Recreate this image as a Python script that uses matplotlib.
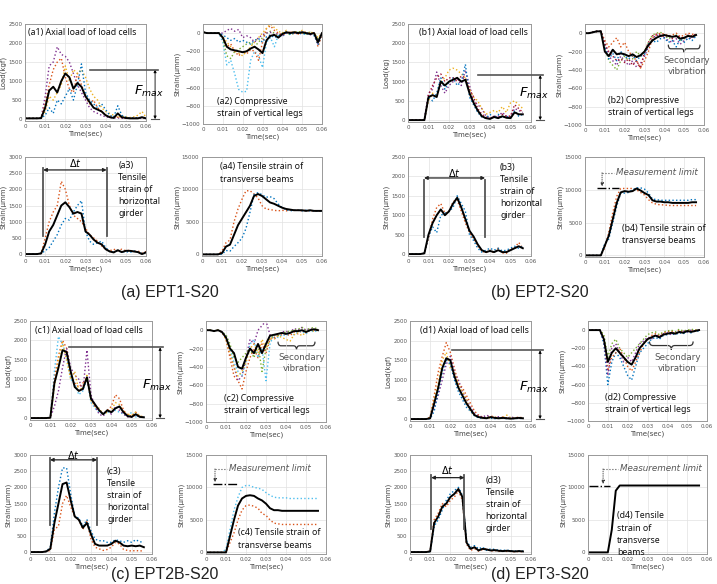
import numpy as np
import matplotlib
matplotlib.use('Agg')
import matplotlib.pyplot as plt
from matplotlib.path import Path
from matplotlib.patches import PathPatch

plt.rcParams['font.family'] = ['DejaVu Sans']

# time bases (sec)
t60 = np.round(np.arange(31) * 0.002, 3)
t56 = np.round(np.arange(29) * 0.002, 3)

# ---------------- (a) EPT1-S20 ----------------
a1_black = [20,20,20,20,25, 300,750,850,700,1000, 1200,1100,800,950,850, 600,450,300,250,200, 100,50,30,150,50, 30,20,20,20,50, 20]
a1_purple = [20,20,20,20,30, 600,1400,1500,1900,1700, 1650,1500,1200,900,700, 500,300,200,150,100, 60,40,30,30,20, 20,20,20,20,20, 20]
a1_orange = [20,20,20,20,30, 400,900,1300,1500,1600, 1100,800,700,1200,900, 600,400,500,300,200, 100,80,60,50,40, 30,30,30,30,30, 30]
a1_yellow = [20,20,20,20,30, 200,600,500,700,900, 1400,1000,1300,1200,1300, 1100,800,600,500,300, 200,150,100,50,80, 60,40,60,100,200, 50]
a1_blue = [20,20,20,20,30, 100,300,150,500,400, 600,800,500,900,1450, 700,500,400,300,400, 250,100,50,350,100, 50,30,30,30,30, 30]

a2_black = [10,0,0,0,0, -50,-150,-180,-190,-200, -210,-200,-170,-150,-180, -220,-80,-30,-20,-50, -10,10,0,10,0, 10,0,-10,0,-100, 0]
a2_cyan = [10,0,0,0,0, -100,-350,-300,-450,-620, -650,-640,-300,-200,-250, -380,-100,-50,-150,-20, -40,0,-10,0,10, 0,-20,0,-30,-80, -10]
a2_green = [10,0,0,0,0, -60,-250,-280,-200,-180, -150,-120,-100,-150,-100, -50,0,20,0,-30, 0,10,-20,0,20, 0,-10,10,0,-60, 0]
a2_purple = [10,0,0,0,0, 0,30,50,20,40, -50,-30,-50,-100,-50, -20,0,10,-20,0, -30,0,10,-10,0, 10,0,-20,0,-120, 0]
a2_orange = [10,0,0,0,0, -50,-150,-120,-200,-250, -200,-230,-180,-200,-300, -100,50,80,30,0, -20,0,10,0,-10, 0,10,0,0,-150, -20]
a2_yellow = [10,0,0,0,0, -40,-100,-150,-200,-220, -250,-200,-150,-100,-50, 0,50,100,60,20, 0,30,0,20,0, 30,0,10,0,-50, 0]
a2_blue = [10,0,0,0,0, -20,-50,-80,-60,-100, -80,-100,-120,-80,-60, -100,-40,-20,-50,-30, -10,0,-10,0,0, -10,0,0,-20,-130, 0]

a3_black = [0,0,0,0,20, 300,700,900,1200,1500, 1600,1450,1250,1300,1250, 700,600,450,350,300, 150,80,50,120,60, 100,100,80,60,0, 50]
a3_orange = [0,0,0,0,20, 500,1000,1300,1500,2250, 2000,1500,1200,1100,1000, 800,600,500,400,250, 150,100,150,100,150, 100,120,80,100,30, 80]
a3_blue = [0,0,0,0,20, 100,200,400,600,900, 1100,1050,1300,1500,1650, 700,400,300,350,400, 200,80,60,100,60, 80,50,100,60,20, 60]

a4_black = [0,0,0,0,0, 200,1200,1500,3000,4500, 5500,6500,7500,9000,9300, 9000,8500,8000,7800,7500, 7200,7000,6900,6800,6800, 6800,6700,6800,6700,6700, 6700]
a4_orange = [0,0,0,0,0, 500,1800,2200,5000,7000, 8500,9800,9800,9300,8700, 7500,7000,6900,6800,6700, 6800,6700,6800,6800,6800, 6700,6800,6700,6700,6700, 6700]
a4_blue = [0,0,0,0,0, 0,600,500,1200,1800, 2500,4000,6500,9200,9500, 9200,8800,8900,8600,7800, 7200,6900,6700,6800,6800, 6700,6800,6700,6700,6700, 6700]

# ---------------- (b) EPT2-S20 ----------------
b1_black = [0,0,0,0,0, 600,650,600,1000,900, 1000,1050,1100,1000,1050, 700,450,250,100,50, 30,80,50,100,60, 50,200,150,150]
b1_purple = [0,0,0,0,0, 700,800,1250,900,700, 900,1000,1100,900,1300, 900,500,400,300,100, 50,100,100,200,100, 100,300,250,200]
b1_yellow = [0,0,0,0,0, 500,700,600,1000,1100, 1300,1350,1300,1200,1100, 800,600,500,300,150, 200,250,200,350,200, 450,500,400,300]
b1_blue = [0,0,0,0,0, 600,500,700,1100,800, 1000,1100,900,1000,1450, 600,400,200,80,50, 150,50,150,50,100, 50,250,100,150]
b1_red = [0,0,0,0,0, 650,900,1100,1200,1000, 1100,1100,1000,1150,1100, 800,600,300,150,80, 50,100,50,150,100, 100,400,300,200]

b2_black = [0,0,10,20,20, -200,-250,-180,-230,-220, -230,-250,-230,-260,-240, -200,-130,-80,-50,-30, -20,-30,-40,-30,-60, -50,-30,-40,-20]
b2_purple = [0,0,10,20,20, -100,-250,-300,-350,-250, -300,-350,-300,-370,-330, -250,-150,-60,-20,-30, -50,-80,-100,-60,-120, -80,-60,-50,-30]
b2_green = [0,0,10,20,20, -150,-300,-350,-400,-300, -250,-300,-280,-200,-250, -200,-100,-20,0,10, -20,-60,-40,-20,-80, -60,-20,-40,-10]
b2_orange = [0,0,10,20,20, -80,-150,-100,-50,-150, -100,-200,-250,-300,-380, -300,-200,-50,-20,0, -10,-30,-20,0,-40, -20,0,-10,-20]
b2_blue = [0,0,10,20,20, -150,-280,-220,-300,-200, -250,-280,-240,-300,-250, -230,-120,-80,-100,-60, -50,-100,-80,-150,-60, -100,-50,-80,-30]
b2_red = [0,0,10,20,20, -120,-200,-250,-300,-280, -320,-280,-350,-300,-380, -200,-100,-30,-10,-20, -40,-20,-60,-30,-40, -60,-20,-30,-10]

b3_black = [0,0,0,0,20, 500,800,1000,1150,1000, 1100,1300,1450,1200,900, 600,450,250,100,50, 80,50,100,50,50, 100,150,200,150]
b3_orange = [0,0,0,0,20, 400,900,1200,1300,1050, 1100,1350,1400,1100,800, 550,400,200,80,30, 100,30,150,30,20, 150,150,300,150]
b3_blue = [0,0,0,0,20, 450,700,550,1000,1050, 1100,1200,1500,1300,1100, 500,350,150,50,100, 150,100,150,80,100, 150,200,150,200]

b4_black = [0,0,0,0,0, 1500,3000,5500,8000,9600, 9800,9700,9800,10200,9900, 9500,9200,8400,8200,8200, 8100,8100,8000,8000,8000, 8000,8000,8100,8100]
b4_orange = [0,0,0,0,0, 1200,3500,6500,9000,10200, 10200,10200,10200,10000,9600, 9200,8500,8000,7800,7700, 7700,7600,7600,7600,7600, 7600,7600,7600,7600]
b4_blue = [0,0,0,0,0, 1800,2500,5000,7500,9500, 9500,9600,10000,10300,10300, 10100,9500,8600,8500,8400, 8400,8400,8400,8400,8400, 8400,8400,8500,8500]

# ---------------- (c) EPT2B-S20 ----------------
c1_black = [0,0,0,0,0, 10,900,1300,1750,1700, 1200,800,700,750,1050, 500,350,200,100,200, 150,250,300,150,50, 30,100,30,20]
c1_cyan = [0,0,0,0,0, 10,1200,2100,1900,1600, 1000,900,600,700,1000, 400,250,150,100,150, 150,200,150,100,50, 150,30,50,20]
c1_orange = [0,0,0,0,0, 10,1000,1600,2000,1800, 1100,900,800,900,1000, 500,300,200,100,200, 300,600,500,200,80, 50,150,50,30]
c1_purple = [0,0,0,0,0, 10,300,700,1300,1800, 1300,1100,1000,700,1750, 600,300,100,50,200, 100,300,200,100,30, 20,80,20,20]
c1_yellow = [0,0,0,0,0, 10,800,1500,1950,1500, 1000,1200,700,800,1100, 450,300,250,100,150, 200,400,350,150,100, 80,150,50,30]

c2_black = [0,0,-10,0,-20, -80,-200,-250,-400,-420, -300,-200,-250,-150,-250, -150,-60,-50,-40,-30, -40,-30,-10,-10,0, -20,0,10,0]
c2_orange = [0,0,-10,0,-20, -100,-300,-500,-550,-640, -450,-300,-200,-300,-150, -250,-100,-80,-60,-50, -40,-60,-20,-40,0, -30,0,10,0]
c2_purple = [0,0,-10,0,-20, -80,-250,-400,-550,-500, -300,-100,-150,0,50, 100,-50,-100,-50,-20, -10,-30,20,0,30, 0,20,0,10]
c2_cyan = [0,0,-10,0,-20, -60,-200,-350,-450,-500, -350,-150,-100,-300,-200, -550,-150,-50,-80,-50, -60,-30,-50,-20,-10, -40,0,-20,0]
c2_green = [0,0,-10,0,-20, -50,-150,-300,-350,-300, -250,-200,-300,-150,-450, -200,-100,-50,-60,-30, -20,-10,0,10,30, 0,20,30,10]
c2_yellow = [0,0,-10,0,-20, -100,-250,-400,-500,-450, -350,-200,-150,-250,-100, -200,-80,-100,-60,-80, -100,-120,-50,-30,-60, -20,0,-10,0]

c3_black = [0,0,0,0,20, 100,900,1500,2100,2150, 1600,1100,1000,750,900, 550,250,200,200,200, 250,350,300,200,180, 200,180,200,150]
c3_blue = [0,0,0,0,20, 150,1200,2000,2600,2600, 1800,1100,1050,800,1000, 650,400,350,350,300, 300,380,350,300,350, 300,380,320,300]
c3_orange = [0,0,0,0,20, 50,700,800,1500,1750, 1400,1100,1000,700,950, 400,150,100,50,80, 150,300,250,80,50, 30,50,30,50]

c4_black = [0,0,0,0,0, 0,2500,5000,7200,8300, 8700,8800,8700,8300,8000, 7500,6800,6500,6500,6400, 6400,6400,6400,6400,6400, 6400,6400,6400,6400]
c4_cyan = [0,0,0,0,0, 500,3500,6500,8500,10000, 10300,10300,10000,9900,9700, 9200,8800,8500,8400,8400, 8400,8300,8300,8300,8300, 8300,8300,8300,8300]
c4_orange = [0,0,0,0,0, 0,1500,3000,5000,6500, 7200,7300,7100,6800,6000, 5700,5000,4500,4400,4300, 4300,4300,4300,4300,4300, 4300,4300,4300,4300]

# ---------------- (d) EPT3-S20 ----------------
d1_black = [0,0,0,0,0, 20,400,800,1300,1550, 1500,1100,800,600,400, 250,100,50,30,20, 50,30,20,30,20, 10,20,30,20]
d1_orange = [0,0,0,0,0, 50,600,1200,1600,1950, 1700,1300,900,800,600, 400,200,100,50,30, 80,50,30,50,30, 20,30,50,30]
d1_purple = [0,0,0,0,0, 20,300,600,1000,1400, 1600,1200,1000,700,500, 300,150,80,50,100, 50,30,60,30,20, 50,30,20,10]
d1_yellow = [0,0,0,0,0, 30,500,900,1500,1700, 1300,1200,900,700,500, 200,100,50,30,20, 30,50,20,30,100, 30,20,30,20]
d1_blue = [0,0,0,0,0, 10,200,700,1200,1500, 1400,1000,700,500,300, 200,80,30,20,50, 20,10,30,20,10, 20,10,20,10]

d2_black = [0,0,0,0,-100, -350,-250,-200,-250,-300, -350,-380,-300,-200,-150, -100,-80,-60,-80,-50, -40,-30,-40,-20,-30, -10,-20,-10,0]
d2_blue = [0,0,0,0,-150, -600,-350,-250,-300,-400, -500,-550,-400,-250,-200, -150,-100,-80,-100,-60, -50,-40,-50,-30,-40, -20,-30,-10,-10]
d2_orange = [0,0,0,0,-80, -450,-300,-250,-200,-300, -400,-450,-350,-250,-150, -100,-60,-40,-60,-30, -20,-10,-30,0,-20, 0,-10,0,0]
d2_green = [0,0,0,0,-50, -300,-150,-100,-200,-250, -300,-250,-200,-150,-100, -50,-30,-20,-50,-20, -10,0,-20,10,-10, 0,10,0,0]
d2_purple = [0,0,0,0,-120, -500,-200,-150,-250,-350, -300,-350,-250,-150,-120, -80,-100,-50,-70,-40, -30,-50,-20,-30,-10, -20,0,-10,0]

d3_black = [0,0,0,0,0, 20,900,1100,1400,1500, 1700,1800,1950,1700,300, 100,150,50,100,80, 50,60,40,30,40, 30,20,30,20]
d3_orange = [0,0,0,0,0, 30,1000,1200,1500,1400, 1600,1700,1900,1600,250, 50,100,30,80,100, 30,50,20,30,20, 20,10,20,10]
d3_blue = [0,0,0,0,0, 10,800,1000,1300,1600, 1800,1900,2000,1750,350, 150,200,100,150,50, 100,80,60,50,60, 40,30,40,30]

d4_black = [0,0,0,0,0, 0,3500,9500,10300,10300, 10300,10300,10300,10300,10300, 10300,10300,10300,10300,10300, 10300,10300,10300,10300,10300, 10300,10300,10300,10300]

# MATLAB-like colours
C = {'blue': '#0072BD', 'orange': '#D95319', 'yellow': '#EDB120', 'purple': '#7E2F8E',
     'green': '#77AC30', 'cyan': '#4DBEEE', 'red': '#A2142F'}

W, H = 717, 584
fig = plt.figure(figsize=(W / 100, H / 100), dpi=100)

TXT = dict(fontsize=6.3, fontweight='bold', family=['Noto Sans', 'DejaVu Sans'], color='#111')


def px_axes(l, t, r, b):
    return fig.add_axes([l / W, 1 - b / H, (r - l) / W, (b - t) / H])


def setup(ax, ylim, yticks, ylabel):
    ax.set_xlim(0, 0.06)
    ax.set_xticks([0, 0.01, 0.02, 0.03, 0.04, 0.05, 0.06])
    ax.set_xticklabels(['0', '0.01', '0.02', '0.03', '0.04', '0.05', '0.06'])
    ax.set_ylim(ylim)
    ax.set_yticks(yticks)
    ax.tick_params(labelsize=4, length=0, pad=2, colors='#555')
    ax.grid(True, color='#e2e2e2', lw=0.5)
    for s in ax.spines.values():
        s.set_color('#999')
        s.set_linewidth(0.7)
    ax.set_xlabel('Time(sec)', fontsize=5, labelpad=1, color='#444')
    ax.set_ylabel(ylabel, fontsize=5, labelpad=1, color='#444')


def curves(ax, t, colored, black):
    for name, y in colored:
        ax.plot(t, y, color=C[name], ls=':', lw=1.0)
    ax.plot(t, black, color='k', lw=1.4)


def fmax(ax, x0, x1, xa, y, tx, ty):
    ax.plot([x0, x1], [y, y], color='#555', lw=1.2, clip_on=False, zorder=5)
    ax.plot([xa - 0.002, xa + 0.002], [0, 0], color='#555', lw=0.8, clip_on=False, zorder=5)
    ax.annotate('', xy=(xa, y), xytext=(xa, 0), annotation_clip=False,
                arrowprops=dict(arrowstyle='<|-|>', color='k', lw=0.6, mutation_scale=4, shrinkA=0, shrinkB=0))
    ax.text(tx, ty, '$F_{max}$', fontsize=9.5, ha='center', va='center', clip_on=False, zorder=6)


def delta_t(ax, x0, x1, yb, yt, ya, ytext):
    for x in (x0, x1):
        ax.plot([x, x], [yb, yt], color='#555', lw=1.3)
    ax.annotate('', xy=(x1, ya), xytext=(x0, ya),
                arrowprops=dict(arrowstyle='<|-|>', color='#222', lw=0.9, mutation_scale=5, shrinkA=0, shrinkB=0))
    ax.text((x0 + x1) / 2, ytext, '$\\Delta t$', fontsize=7, ha='center', va='center')


def meas_limit(ax, x0, x1, y, xa, ylead, xtext):
    ax.plot([x0, x1], [y, y], color='k', ls='-.', lw=1)
    ax.plot([xa, xtext - 0.0008], [ylead, ylead], color='#555', ls=':', lw=0.8)
    ax.annotate('', xy=(xa, y + 250), xytext=(xa, ylead),
                arrowprops=dict(arrowstyle='-|>', color='#333', lw=0.6, ls=':', mutation_scale=5, shrinkA=0, shrinkB=0))
    ax.text(xtext, ylead, 'Measurement limit', fontsize=6.3, style='italic', color='#555', va='center')


def brace(ax, x0, x1, y, h, tx, ty):
    xm = (x0 + x1) / 2
    d = (x1 - x0) * 0.08
    verts = [(x0, y + h), (x0, y), (x0 + d, y), (xm - d, y), (xm, y), (xm, y - h),
             (xm, y), (xm + d, y), (x1 - d, y), (x1, y), (x1, y + h)]
    codes = [Path.MOVETO, Path.CURVE3, Path.CURVE3, Path.LINETO, Path.CURVE3, Path.CURVE3,
             Path.CURVE3, Path.CURVE3, Path.LINETO, Path.CURVE3, Path.CURVE3]
    ax.add_patch(PathPatch(Path(verts, codes), fill=False, lw=0.9, color='#333'))
    ax.text(tx, ty, 'Secondary\nvibration', fontsize=6.3, color='#555', ha='center', va='center', linespacing=1.3)


LOAD = ((-50, 2500), [0, 500, 1000, 1500, 2000, 2500])
COMP = ((-1000, 100), [-1000, -800, -600, -400, -200, 0])
GIRD = ((-60, 3000), [0, 500, 1000, 1500, 2000, 2500, 3000])
BEAM = ((-250, 15000), [0, 5000, 10000, 15000])
SU = 'Strain(μmm)'

# ---- (a) ----
ax = px_axes(25, 24, 146, 121)
setup(ax, *LOAD, 'Load(kgf)')
curves(ax, t60, [('purple', a1_purple), ('orange', a1_orange), ('yellow', a1_yellow), ('blue', a1_blue)], a1_black)
ax.text(0.0015, 2265, '(a1) Axial load of load cells', va='center', **TXT)
fmax(ax, 0.032, 0.066, 0.0645, 1300, 0.0615, 720)

ax = px_axes(203, 24, 322, 124)
setup(ax, *COMP, SU)
curves(ax, t60, [('cyan', a2_cyan), ('green', a2_green), ('purple', a2_purple), ('orange', a2_orange),
                 ('yellow', a2_yellow), ('blue', a2_blue)], a2_black)
ax.text(0.007, -823, '(a2) Compressive\nstrain of vertical legs', va='center', linespacing=1.45, **TXT)

ax = px_axes(25, 157, 146, 256)
setup(ax, *GIRD, SU)
curves(ax, t60, [('orange', a3_orange), ('blue', a3_blue)], a3_black)
delta_t(ax, 0.009, 0.0405, 560, 2650, 2600, 2800)
ax.text(0.0462, 1995, '(a3)\nTensile\nstrain of\nhorizontal\ngirder', va='center', linespacing=1.45, **TXT)

ax = px_axes(202, 157, 322, 256)
setup(ax, *BEAM, SU)
curves(ax, t60, [('orange', a4_orange), ('blue', a4_blue)], a4_black)
ax.text(0.009, 12525, '(a4) Tensile strain of\ntransverse beams', va='center', linespacing=1.45, **TXT)

# ---- (b) ----
ax = px_axes(408, 24, 531, 122)
setup(ax, *LOAD, 'Load(kg)')
curves(ax, t56, [('purple', b1_purple), ('yellow', b1_yellow), ('blue', b1_blue), ('red', b1_red)], b1_black)
ax.text(0.0054, 2270, '(b1) Axial load of load cells', va='center', **TXT)
fmax(ax, 0.034, 0.066, 0.0645, 1170, 0.0615, 700)

ax = px_axes(585, 24, 704, 125)
setup(ax, *COMP, SU)
curves(ax, t56, [('purple', b2_purple), ('green', b2_green), ('orange', b2_orange), ('blue', b2_blue),
                 ('red', b2_red)], b2_black)
brace(ax, 0.042, 0.058, -170, 45, 0.0514, -360)
ax.text(0.0116, -795, '(b2) Compressive\nstrain of vertical legs', va='center', linespacing=1.45, **TXT)

ax = px_axes(408, 157, 531, 256)
setup(ax, *LOAD, SU)
curves(ax, t56, [('orange', b3_orange), ('blue', b3_blue)], b3_black)
delta_t(ax, 0.0078, 0.0376, 440, 1900, 1960, 2080)
ax.text(0.0449, 1610, '(b3)\nTensile\nstrain of\nhorizontal\ngirder', va='center', linespacing=1.45,
        clip_on=False, **TXT)

ax = px_axes(585, 157, 704, 257)
setup(ax, *BEAM, SU)
curves(ax, t56, [('orange', b4_orange), ('blue', b4_blue)], b4_black)
meas_limit(ax, 0.006, 0.017, 10250, 0.0086, 12600, 0.0155)
ax.text(0.0187, 3225, '(b4) Tensile strain of\ntransverse beams', va='center', linespacing=1.45, **TXT)

# ---- (c) ----
ax = px_axes(30, 321, 152, 420)
setup(ax, *LOAD, 'Load(kgf)')
curves(ax, t56, [('cyan', c1_cyan), ('orange', c1_orange), ('purple', c1_purple), ('yellow', c1_yellow)], c1_black)
ax.text(0.0025, 2265, '(c1) Axial load of load cells', va='center', **TXT)
fmax(ax, 0.019, 0.0655, 0.064, 1820, 0.0625, 830)

ax = px_axes(206, 321, 326, 422)
setup(ax, *COMP, SU)
curves(ax, t56, [('orange', c2_orange), ('purple', c2_purple), ('cyan', c2_cyan), ('green', c2_green),
                 ('yellow', c2_yellow)], c2_black)
brace(ax, 0.036, 0.0545, -170, 45, 0.048, -362)
ax.text(0.009, -805, '(c2) Compressive\nstrain of vertical legs', va='center', linespacing=1.45, **TXT)

ax = px_axes(30, 455, 152, 554)
setup(ax, *GIRD, SU)
curves(ax, t56, [('blue', c3_blue), ('orange', c3_orange)], c3_black)
delta_t(ax, 0.0098, 0.033, 835, 2900, 2850, 3000)
ax.text(0.0379, 1750, '(c3)\nTensile\nstrain of\nhorizontal\ngirder', va='center', linespacing=1.45, **TXT)

ax = px_axes(206, 455, 326, 554)
setup(ax, *BEAM, SU)
curves(ax, t56, [('cyan', c4_cyan), ('orange', c4_orange)], c4_black)
meas_limit(ax, 0.0035, 0.016, 10560, 0.0045, 12860, 0.0115)
ax.text(0.016, 2065, '(c4) Tensile strain of\ntransverse beams', va='center', linespacing=1.45, **TXT)

# ---- (d) ----
ax = px_axes(410, 321, 531, 421)
setup(ax, *LOAD, 'Load(kgf)')
curves(ax, t56, [('orange', d1_orange), ('purple', d1_purple), ('yellow', d1_yellow), ('blue', d1_blue)], d1_black)
ax.text(0.005, 2250, '(d1) Axial load of load cells', va='center', **TXT)
fmax(ax, 0.021, 0.066, 0.0645, 1750, 0.0615, 800)

ax = px_axes(588, 321, 707, 421)
setup(ax, *COMP, SU)
curves(ax, t56, [('blue', d2_blue), ('orange', d2_orange), ('green', d2_green), ('purple', d2_purple)], d2_black)
brace(ax, 0.031, 0.053, -170, 45, 0.045, -362)
ax.text(0.0086, -810, '(d2) Compressive\nstrain of vertical legs', va='center', linespacing=1.45, **TXT)

ax = px_axes(410, 455, 531, 554)
setup(ax, *GIRD, SU)
curves(ax, t56, [('orange', d3_orange), ('blue', d3_blue)], d3_black)
delta_t(ax, 0.0105, 0.027, 700, 2390, 2300, 2550)
ax.text(0.0375, 1470, '(d3)\nTensile\nstrain of\nhorizontal\ngirder', va='center', linespacing=1.45, **TXT)

ax = px_axes(588, 455, 707, 554)
setup(ax, *BEAM, SU)
curves(ax, t56, [], d4_black)
meas_limit(ax, 0.0005, 0.011, 10300, 0.0076, 12860, 0.016)
ax.text(0.0145, 2800, '(d4) Tensile\nstrain of\ntransverse\nbeams', va='center', linespacing=1.45, **TXT)

# captions
CAP = dict(fontsize=11.5, family=['Liberation Sans', 'DejaVu Sans'], ha='center', va='center', color='#222')
fig.text(170 / W, 1 - 292 / H, '(a) EPT1-S20', **CAP)
fig.text(540 / W, 1 - 292 / H, '(b) EPT2-S20', **CAP)
fig.text(165 / W, 1 - 575 / H, '(c) EPT2B-S20', **CAP)
fig.text(540 / W, 1 - 575 / H, '(d) EPT3-S20', **CAP)

fig.savefig('out.png', dpi=100)
